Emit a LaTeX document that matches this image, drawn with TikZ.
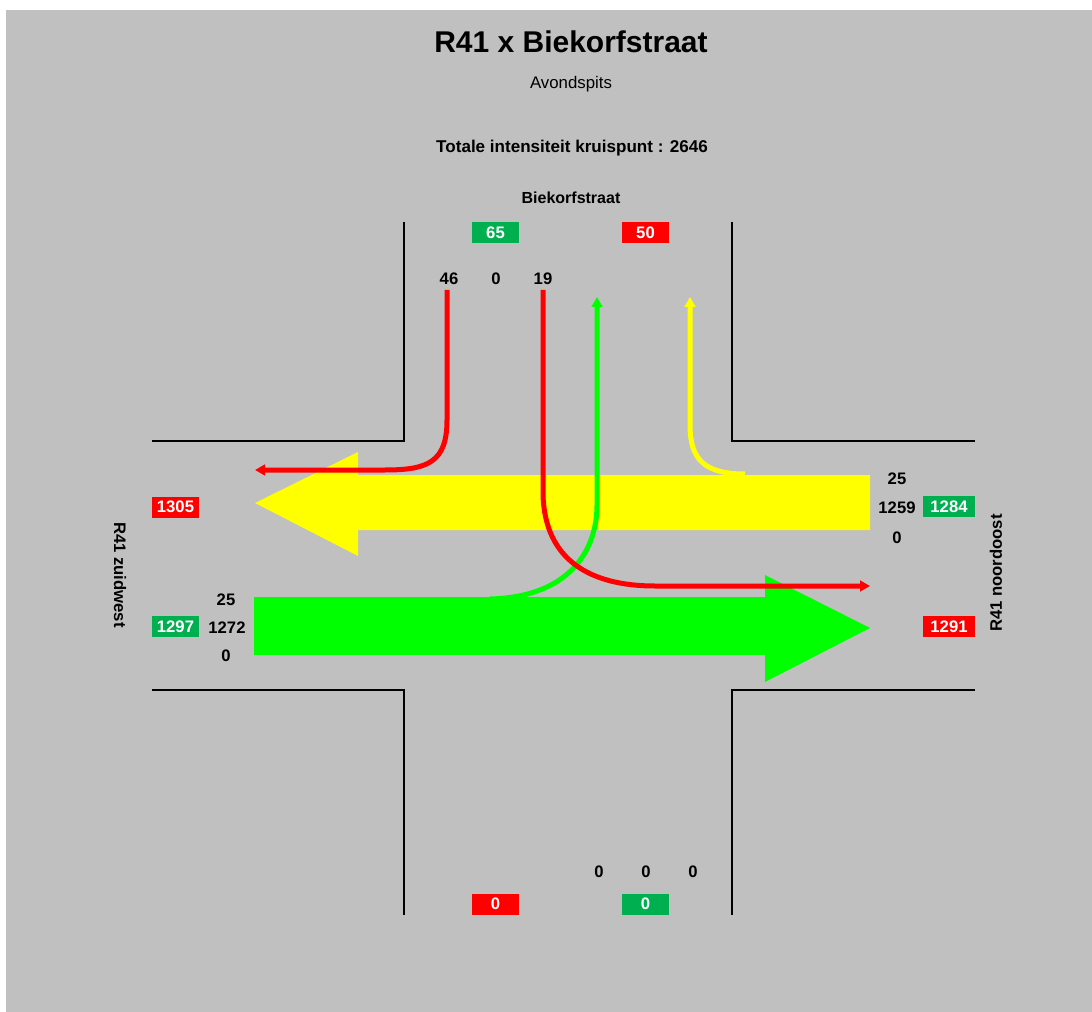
\documentclass[tikz,border=0pt]{standalone}
\usepackage{fontspec}
\setmainfont{Liberation Sans}
\usetikzlibrary{arrows.meta}
\begin{document}
\begin{tikzpicture}[x=0.75pt,y=-0.75pt]
\definecolor{bggray}{HTML}{C0C0C0}
\definecolor{boxgreen}{HTML}{00B050}
\definecolor{boxred}{HTML}{FF0000}
\definecolor{flowyellow}{HTML}{FFFF00}
\definecolor{flowgreen}{HTML}{00FF00}
\definecolor{flowred}{HTML}{FF0000}
\tikzset{
  numlabel/.style={font=\fontsize{12.5}{15}\selectfont\bfseries,inner sep=0pt},
  countbox/.style={numlabel,text=white,minimum width=35.25pt,minimum height=15.75pt},
  widebox/.style={countbox,minimum width=39pt},
  roadline/.style={black,line width=1.2pt},
  turnflow/.style={line width=3.75pt,-{Triangle[length=7.5pt,width=8pt]}},
}
\useasboundingbox (0,0) rectangle (1092,1012);
\fill[white] (0,0) rectangle (1092,1012);
\fill[bggray] (6,10) rectangle (1092,1012);
% titles
\node[font=\fontsize{22.5}{27}\selectfont\bfseries] (title) at (571,42) {R41 x Biekorfstraat};
\node[font=\fontsize{12.6}{15}\selectfont] (period) at (571,84) {Avondspits};
\node[numlabel,font=\fontsize{12.8}{15}\selectfont\bfseries] (total) at (572,148) {Totale intensiteit kruispunt : 2646};
\node[numlabel,font=\fontsize{12}{14}\selectfont\bfseries] (north) at (571,198) {Biekorfstraat};
\node[numlabel,rotate=-90] (west) at (120,575) {R41 zuidwest};
\node[numlabel,rotate=90] (east) at (996,573) {R41 noordoost};
% road edges
\draw[roadline] (404,222) -- (404,441) -- (152,441);
\draw[roadline] (732,222) -- (732,441) -- (975,441);
\draw[roadline] (152,690) -- (404,690) -- (404,915);
\draw[roadline] (975,690) -- (732,690) -- (732,915);
% counters
\node[countbox,fill=boxgreen] (inN) at (495.5,232.5) {65};
\node[countbox,fill=boxred] (outN) at (645.5,232.5) {50};
\node[countbox,fill=boxred] (outW) at (175.5,507) {1305};
\node[countbox,fill=boxgreen] (inW) at (175.5,626.5) {1297};
\node[widebox,fill=boxgreen] (inE) at (949,506.5) {1284};
\node[widebox,fill=boxred] (outE) at (949,626.5) {1291};
\node[countbox,fill=boxred] (outS) at (495.5,904) {0};
\node[countbox,fill=boxgreen] (inS) at (645.5,904) {0};
% turning counts
\node[numlabel] (nL) at (449,279) {46};
\node[numlabel] (nT) at (496,279) {0};
\node[numlabel] (nR) at (543,279) {19};
\node[numlabel] (wL) at (226,600) {25};
\node[numlabel] (wT) at (227,628) {1272};
\node[numlabel] (wR) at (226,656) {0};
\node[numlabel] (eR) at (897,479) {25};
\node[numlabel] (eT) at (897,508) {1259};
\node[numlabel] (eL) at (897,538) {0};
\node[numlabel] (sL) at (599,872) {0};
\node[numlabel] (sT) at (646,872) {0};
\node[numlabel] (sR) at (693,872) {0};
% flow ends
\coordinate (nLa) at (447,290);
\coordinate (nLb) at (255,470);
\coordinate (nRa) at (543,290);
\coordinate (nRb) at (870,586);
\coordinate (wLa) at (490,599);
\coordinate (wLb) at (597,297);
\coordinate (eRa) at (745,474);
\coordinate (eRb) at (690,297);
% main flows
\fill[flowyellow] (870,475) -- (358,475) -- (358,452) -- (255,503) -- (358,556) -- (358,530) -- (870,530) -- cycle;
\draw[turnflow,flowyellow] (eRa) .. controls (705,474) and (690,460) .. (690,425) -- (eRb);
\draw[turnflow,flowred] (nLa) -- (447,420) .. controls (447,462) and (428,470) .. (385,470) -- (nLb);
\fill[flowgreen] (254,597) -- (765,597) -- (765,575) -- (870,628) -- (765,682) -- (765,655) -- (254,655) -- cycle;
\draw[turnflow,flowgreen] (wLa) .. controls (570,597) and (597,550) .. (597,505) -- (wLb);
\draw[turnflow,flowred] (nRa) -- (543,495) .. controls (545,560) and (590,586) .. (655,586) -- (nRb);
\end{tikzpicture}
\end{document}
